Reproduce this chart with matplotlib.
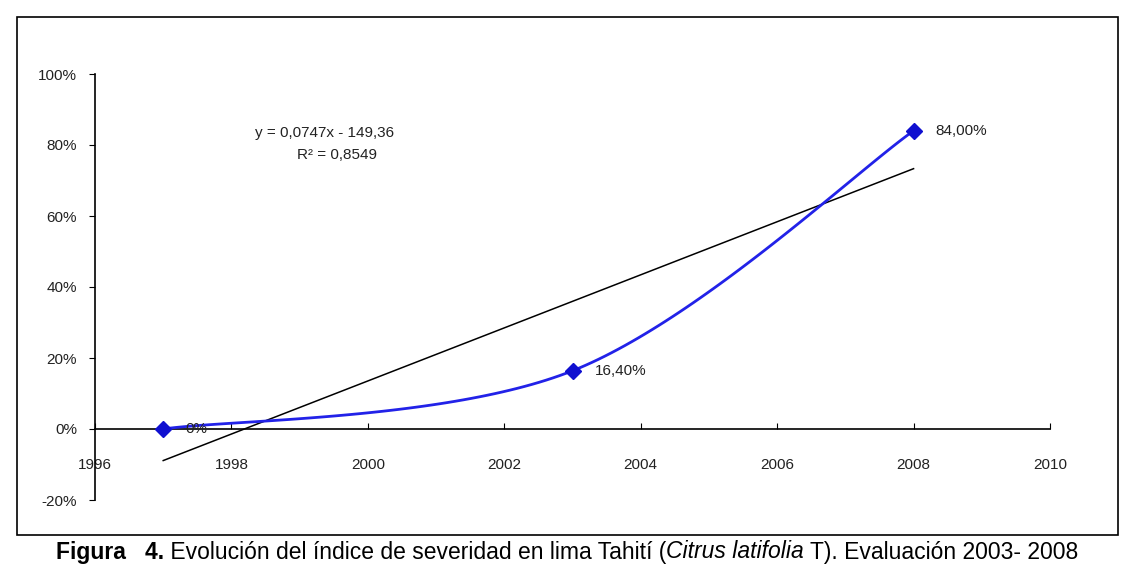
import numpy as np
import matplotlib
matplotlib.use("Agg")
import matplotlib.pyplot as plt
from matplotlib.patches import Rectangle

years = [1997, 2003, 2008]
severity = [0.0, 0.164, 0.84]
point_labels = ["0%", "16,40%", "84,00%"]
x_ticks = [1996, 1998, 2000, 2002, 2004, 2006, 2008, 2010]
y_ticks = [-0.2, 0.0, 0.2, 0.4, 0.6, 0.8, 1.0]
y_tick_labels = ["-20%", "0%", "20%", "40%", "60%", "80%", "100%"]
equation_lines = ["y = 0,0747x - 149,36", "R² = 0,8549"]

FONT = ["Liberation Sans", "DejaVu Sans"]
plt.rcParams['font.family'] = FONT

fig = plt.figure(figsize=(11.46, 5.73), dpi=100)
ax = fig.add_axes([95/1146, 1-500/573, (1050-95)/1146, (500-74)/573])

# border
fig.patches.append(Rectangle((17/1146, 1-535/573), (1118-17)/1146, (535-17)/573,
                             transform=fig.transFigure, fill=False, edgecolor='black', lw=1.2))

# smoothed curve (Catmull-Rom / Bezier like Excel)
xs = np.array(years, float); ys = np.array(severity, float)
P = np.column_stack([xs, ys])
curve = []
t = np.linspace(0, 1, 60)[:, None]
for i in range(len(P)-1):
    p0 = P[i]; p3 = P[i+1]
    pm = P[i-1] if i > 0 else P[i]
    pp = P[i+2] if i+2 < len(P) else P[i+1]
    c1 = p0 + (p3 - pm)/6
    c2 = p3 - (pp - p0)/6
    seg = (1-t)**3*p0 + 3*(1-t)**2*t*c1 + 3*(1-t)*t**2*c2 + t**3*p3
    curve.append(seg)
curve = np.vstack(curve)
ax.plot(curve[:, 0], curve[:, 1], color='#2222e8', lw=2, zorder=3)
ax.plot(xs, ys, linestyle='none', marker='D', markersize=8, color='#1010d0', zorder=4)

# linear trendline
m, b = np.polyfit(xs, ys, 1)
tx = np.array([xs.min(), xs.max()])
ax.plot(tx, m*tx + b, color='black', lw=1.1, zorder=2)

for x, y, lab in zip(years, severity, point_labels):
    ax.annotate(lab, (x, y), xytext=(16, 0), textcoords='offset points',
                fontsize=11, va='center', ha='left', color='#222222')

ax.text(325/1146, 1-133/573, equation_lines[0], transform=fig.transFigure, ha='center', va='center',
        fontsize=11, color='#222222')
ax.text(337/1146, 1-155/573, equation_lines[1], transform=fig.transFigure, ha='center', va='center',
        fontsize=11, color='#222222')

ax.set_xlim(1996, 2010)
ax.set_ylim(-0.2, 1.0)
ax.set_xticks(x_ticks)
ax.set_xticklabels([str(v) for v in x_ticks])
ax.set_yticks(y_ticks)
ax.set_yticklabels(y_tick_labels)
for s in ['top', 'right']:
    ax.spines[s].set_visible(False)
ax.spines['bottom'].set_position(('data', 0))
ax.spines['bottom'].set_linewidth(1.2)
ax.spines['left'].set_linewidth(1.2)
ax.spines['left'].set_zorder(5)
ax.tick_params(axis='x', direction='in', length=4, pad=21, labelsize=11, labelcolor='#222222')
ax.tick_params(axis='y', direction='out', length=4, pad=9, labelsize=11, labelcolor='#222222')

# caption with mixed styles
fig.canvas.draw()
r = fig.canvas.get_renderer()
parts = [("Figura   4.", 'bold', 'normal'),
         (" Evolución del índice de severidad en lima Tahití (", 'normal', 'normal'),
         ("Citrus latifolia", 'normal', 'italic'),
         (" T). Evaluación 2003- 2008", 'normal', 'normal')]
cap_fs = 16.5
texts = []
for s, w, st in parts:
    tt = fig.text(0, 0, s, fontsize=cap_fs, fontweight=w, fontstyle=st,
                  family=["Liberation Sans", "DejaVu Sans"], va='center', ha='left')
    texts.append(tt)
widths = [tt.get_window_extent(r).width for tt in texts]
total = sum(widths)
x0 = 567 - total/2
yc = 1 - 552/573
for tt, w in zip(texts, widths):
    tt.set_position((x0/1146, yc))
    x0 += w

fig.savefig("out.png", dpi=100)
